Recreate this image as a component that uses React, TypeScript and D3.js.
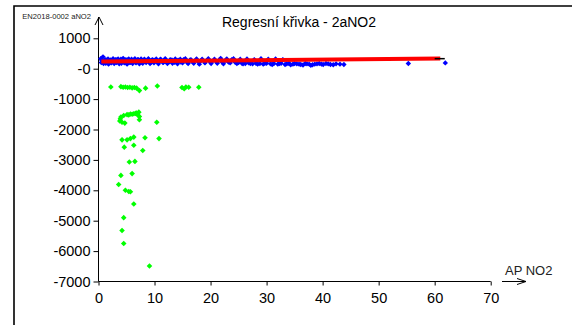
import { useRef, useEffect } from "react";
import * as d3 from "d3";

const title = "Regresní křivka - 2aNO2";
const yAxisTitle = "EN2018-0002 aNO2";
const xAxisTitle = "AP NO2";

const xTicks = [0, 10, 20, 30, 40, 50, 60, 70];
const yTicks = [1000, 0, -1000, -2000, -3000, -4000, -5000, -6000, -7000];
const yTickLabels = ["1000", "-0", "-1000", "-2000", "-3000", "-4000", "-5000", "-6000", "-7000"];

// measured points (AP, EN)
const bluePoints: [number, number][] = [
  [0.4, 330], [0.5, 200], [0.8, 390], [0.9, 170], [1.2, 300], [1.3, 180], [1.7, 320], [1.8, 150],
  [2.1, 290], [2.3, 190], [2.6, 330], [2.8, 170], [3.0, 300], [3.2, 200], [3.5, 320], [3.7, 160],
  [4.0, 310], [4.1, 180], [4.4, 340], [4.6, 190], [4.9, 300], [5.1, 150], [5.4, 320], [5.6, 200],
  [5.9, 310], [6.1, 170], [6.5, 330], [6.7, 190], [7.0, 300], [7.3, 160], [7.6, 320], [7.9, 180],
  [8.2, 310], [8.5, 200], [8.9, 330], [9.2, 170], [9.6, 300], [9.9, 190], [10.3, 320], [10.7, 160],
  [11.1, 310], [11.5, 200], [11.9, 330], [12.3, 170], [12.8, 300], [13.2, 180], [13.7, 320], [14.1, 160],
  [14.6, 310], [15.0, 190], [15.5, 330], [16.0, 170], [16.5, 300], [17.0, 180], [17.5, 320], [18.0, 150],
  [18.5, 310], [19.0, 190], [19.6, 330], [20.1, 170], [20.7, 310], [21.2, 180], [21.8, 340], [22.3, 160],
  [22.9, 320], [23.5, 190], [24.1, 330], [24.7, 170], [25.3, 310], [25.8, 160], [26.5, 320], [27.1, 170],
  [27.8, 300], [28.4, 150], [29.0, 330], [29.7, 180], [30.3, 310], [31.0, 140], [31.6, 320], [32.3, 170],
  [32.9, 300], [33.6, 160], [34.3, 130], [35.0, 170], [35.8, 150], [36.5, 120], [37.2, 160], [37.9, 110],
  [38.6, 150], [39.4, 170], [40.1, 140], [41.0, 160], [41.9, 130], [43.1, 150], [43.8, 140],
  [55.3, 170], [61.9, 190],
];

// denser part of the blue band
const bluePointsDense: [number, number][] = [
  [0.6, 280], [1.0, 220], [1.5, 290], [1.9, 210], [2.4, 280], [2.9, 220], [3.3, 300], [3.8, 210],
  [4.3, 280], [4.7, 230], [5.2, 290], [5.7, 210], [6.2, 280], [6.6, 220], [7.1, 300], [7.6, 210],
  [8.0, 280], [8.5, 230], [9.0, 290], [9.4, 210], [9.9, 280], [10.5, 220], [11.0, 300], [11.6, 210],
  [12.1, 280], [12.6, 230], [13.1, 290], [13.6, 210], [14.2, 280], [14.7, 220], [15.2, 300], [15.8, 210],
  [16.3, 280], [16.8, 230], [17.4, 290], [17.9, 210], [18.4, 280], [19.0, 220], [19.5, 300], [20.0, 210],
  [20.6, 280], [21.1, 230], [21.6, 290], [22.1, 210], [22.7, 280], [23.2, 220], [23.8, 300], [24.4, 210],
  [25.0, 200], [25.6, 180], [26.2, 170], [26.8, 190], [27.5, 160], [28.1, 180], [28.8, 170], [29.4, 150],
  [30.0, 180], [30.7, 160], [31.3, 170], [32.0, 150], [32.6, 180], [33.3, 140], [34.0, 170], [34.7, 150],
  [35.4, 160], [36.1, 140], [36.9, 170], [37.6, 150], [38.2, 130], [39.0, 160], [39.8, 150], [40.6, 170],
  [41.4, 140], [42.4, 160],
];

const greenPoints: [number, number][] = [
  [2.2, -600], [4.0, -590], [4.4, -610], [4.8, -600], [5.2, -620], [5.6, -610], [6.0, -630], [6.4, -620],
  [6.8, -640], [7.3, -720], [8.4, -640], [10.5, -570], [14.9, -620], [15.3, -660], [15.6, -600], [16.1, -610],
  [17.9, -610],
  [3.8, -1720], [4.2, -1760], [4.7, -1790], [4.0, -1590], [3.9, -1650], [4.5, -1540], [5.1, -1510], [5.4, -1520],
  [5.7, -1490], [6.0, -1500], [6.3, -1480], [6.6, -1470], [6.8, -1460], [7.0, -1520], [7.2, -1430], [7.3, -1570],
  [7.3, -1680], [10.4, -1760],
  [4.2, -2340], [5.1, -2340], [5.7, -2300], [6.3, -2250], [4.6, -2580], [6.3, -2520], [8.3, -2270], [7.9, -2690],
  [10.8, -2300],
  [5.5, -3070], [6.5, -3050], [6.0, -3450], [4.0, -3510], [3.6, -3810], [4.8, -4000], [5.4, -4040], [5.7, -4050],
  [6.3, -4450], [4.5, -4900], [4.2, -5320], [4.5, -5750], [9.1, -6490],
];

// regression curve
const redX = [0.5, 61];
const redY = [235, 335];
const blackX = [60, 61.8];
const blackY = [330, 330];

const FONT = "'Liberation Sans', Arial, sans-serif";

export default function App() {
  const svgRef = useRef<SVGSVGElement>(null);

  useEffect(() => {
    if (!svgRef.current) return;
    const svg = d3.select(svgRef.current);
    svg.selectAll("*").remove();

    const x = d3.scaleLinear().domain([0, 70]).range([98.5, 490.7]);
    const y = d3.scaleLinear().domain([-7000, 1000]).range([281.5, 38.3]);

    // frame
    svg.append("path").attr("d", "M14,325V6H572").attr("fill", "none").attr("stroke", "#000").attr("stroke-width", 1.6);

    svg.append("text").attr("x", 299).attr("y", 27).attr("text-anchor", "middle")
      .attr("font-family", FONT).attr("font-size", 14).attr("fill", "#000").text(title);

    // axes
    const yAx = svg.append("g").attr("transform", `translate(${x(0)},0)`)
      .call(d3.axisLeft(y).tickValues(yTicks).tickSize(5).tickPadding(3).tickFormat((_, i) => yTickLabels[i]));
    yAx.select(".domain").remove();
    yAx.selectAll("text").attr("font-family", FONT).attr("font-size", 14.5).attr("fill", "#000");

    const xAx = svg.append("g").attr("transform", `translate(0,${y(-7000)})`)
      .call(d3.axisBottom(x).tickValues(xTicks).tickSize(4).tickPadding(7.5).tickFormat(d3.format("d")));
    xAx.select(".domain").remove();
    xAx.selectAll("text").attr("font-family", FONT).attr("font-size", 14.5).attr("fill", "#000");

    svg.append("line").attr("x1", x(0)).attr("x2", x(0)).attr("y1", y(-7000)).attr("y2", 17)
      .attr("stroke", "#000");
    svg.append("path").attr("d", "M95,25L99,17L103,25").attr("fill", "none").attr("stroke", "#000");
    svg.append("line").attr("x1", x(0)).attr("x2", x(70)).attr("y1", y(-7000)).attr("y2", y(-7000))
      .attr("stroke", "#000");
    svg.append("line").attr("x1", 502).attr("x2", 526).attr("y1", 281.5).attr("y2", 281.5).attr("stroke", "#000");
    svg.append("path").attr("d", "M517,278.5L526,281.5L517,284.5").attr("fill", "none").attr("stroke", "#000");

    svg.append("text").attr("x", 91).attr("y", 18.5).attr("text-anchor", "end")
      .attr("font-family", FONT).attr("font-size", 7.6).attr("fill", "#222").text(yAxisTitle);
    svg.append("text").attr("x", 505).attr("y", 275)
      .attr("font-family", FONT).attr("font-size", 13).attr("fill", "#222").text(xAxisTitle);

    const diamond = (s: number) => `M0,${-s}L${s},0L0,${s}L${-s},0Z`;

    svg.append("g").selectAll("path").data([...bluePoints, ...bluePointsDense]).enter().append("path")
      .attr("transform", d => `translate(${x(d[0])},${y(d[1])})`)
      .attr("d", diamond(2.7)).attr("fill", "#0000ff");

    svg.append("g").selectAll("path").data(greenPoints).enter().append("path")
      .attr("transform", d => `translate(${x(d[0])},${y(d[1])})`)
      .attr("d", diamond(2.8)).attr("fill", "#00ff00");

    const line = d3.line<number>().x(d => x(d)).y((_, i) => y(redY[i]));
    svg.append("path").datum(redX).attr("d", line).attr("fill", "none").attr("stroke", "#ff0000").attr("stroke-width", 4);
    const bline = d3.line<number>().x(d => x(d)).y((_, i) => y(blackY[i]));
    svg.append("path").datum(blackX).attr("d", bline).attr("fill", "none").attr("stroke", "#000").attr("stroke-width", 1.5);
  }, []);

  return (
    <svg ref={svgRef} width={572} height={325} style={{ position: "absolute", left: 0, top: 0, background: "#fff" }} />
  );
}
